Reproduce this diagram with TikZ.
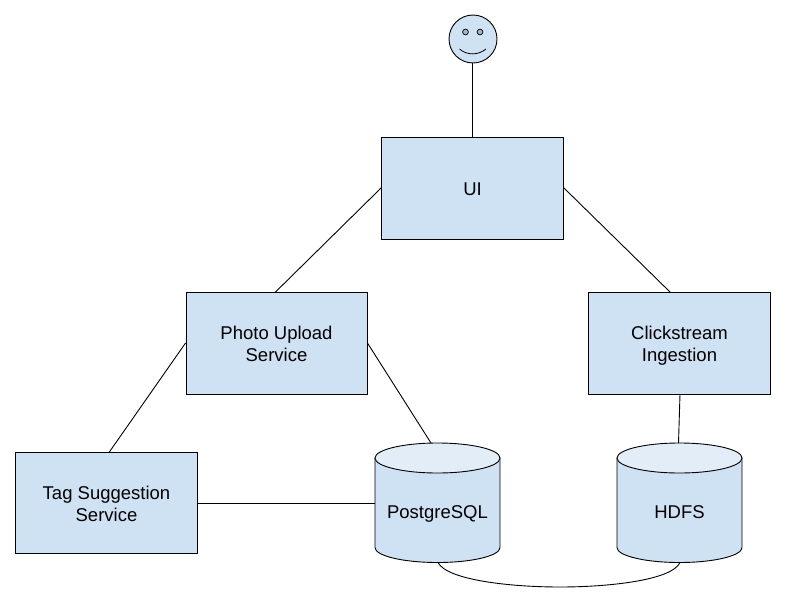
\documentclass[tikz,border=0pt]{standalone}
\usepackage{fontspec}
\setmainfont{Liberation Sans}
\definecolor{boxblue}{HTML}{CFE2F3}
\definecolor{toplight}{HTML}{E2EDF8}
\definecolor{eyegrey}{HTML}{A6B5C2}
\newcommand{\tstrut}{\rule[-4pt]{0pt}{22.5pt}}
\newcommand{\cstrut}{\rule{0pt}{30pt}}
\tikzset{
  svc/.style={draw=black,fill=boxblue,line width=0.9pt,minimum width=182pt,minimum height=102pt,inner sep=0pt,align=center,font=\fontsize{18.5}{22.5}\selectfont},
  cyllabel/.style={inner sep=0pt,minimum width=125pt,minimum height=119pt,text depth=0pt,font=\fontsize{18.5}{22.5}\selectfont},
  link/.style={draw=black,line width=0.9pt},
  cylshape/.style={draw=black,line width=0.9pt}
}
\newcommand{\cyl}[3]{% center x, name, label
  \path[cylshape,fill=boxblue] (#1-62.5,458) -- (#1-62.5,547.5) arc[start angle=180,end angle=0,x radius=62.5,y radius=15] -- (#1+62.5,458) -- cycle;
  \path[cylshape,fill=toplight] (#1,458) ellipse[x radius=62.5,y radius=15];
  \node[cyllabel] (#2) at (#1,503) {\cstrut #3};
}
\begin{document}
\begin{tikzpicture}[x=1pt,y=-1pt]
\useasboundingbox (0,0) rectangle (786,615);
% user face
\node[circle,draw=black,fill=boxblue,line width=0.9pt,minimum size=48pt,inner sep=0pt] (face) at (473,39) {};
\path[draw=black,fill=eyegrey,line width=0.7pt] (465.5,32) circle[radius=2.9] (480,32) circle[radius=2.9];
\draw[black,line width=0.8pt] (459.5,49) .. controls (467,55.5) and (478,55.5) .. (486,49);
% boxes
\node[svc] (ui) at (472.5,188) {\tstrut UI};
\node[svc,minimum width=181pt] (photo) at (276.5,343) {\tstrut Photo Upload\\\tstrut Service};
\node[svc] (click) at (679.5,343) {\tstrut Clickstream\\\tstrut Ingestion};
\node[svc,minimum height=101pt] (tag) at (106.5,503) {\tstrut Tag Suggestion\\\tstrut Service};
% cylinders
\cyl{437.5}{pg}{PostgreSQL}
\cyl{679.5}{hdfs}{HDFS}
% connector ends
\coordinate (facefoot) at (472.5,63);
\coordinate (phototop) at (275,292.5);
\coordinate (clicktop) at (670.5,292.5);
\coordinate (tagtop) at (109,452.5);
\coordinate (pgtop) at (431,443);
\coordinate (clickbot) at (680,394);
\coordinate (hdfstop) at (678.5,443);
\coordinate (pgbot) at (438,562.5);
\coordinate (hdfsbot) at (680,562.5);
% connectors
\draw[link] (facefoot) -- (ui.north);
\draw[link] (ui.west) -- (phototop);
\draw[link] (ui.east) -- (clicktop);
\draw[link] (photo.west) -- (tagtop);
\draw[link] (photo.east) -- (pgtop);
\draw[link] (tag.east) -- (pg.west);
\draw[link] (clickbot) -- (hdfstop);
\draw[link] (pgbot) .. controls (447,580) and (510,587) .. (560,587) .. controls (610,587) and (672,580) .. (hdfsbot);
\end{tikzpicture}
\end{document}
